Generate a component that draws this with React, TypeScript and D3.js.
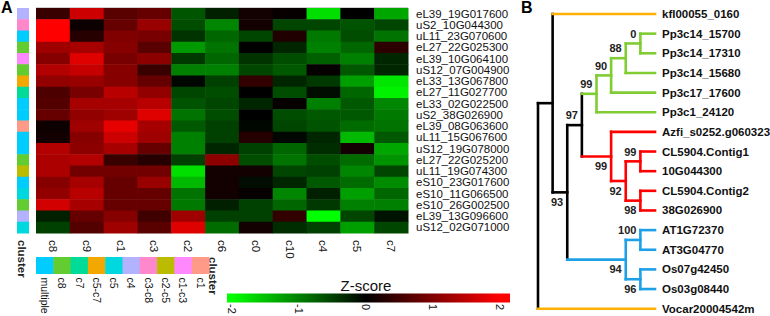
import React from 'react';
import * as d3 from 'd3';

const columns = ['c8', 'c9', 'c1', 'c3', 'c2', 'c6', 'c0', 'c10', 'c4', 'c5', 'c7'];

const genes = [
  'eL39_19G017600', 'uS2_10G044300', 'uL11_23G070600', 'eL27_22G025300', 'eL39_10G064100',
  'uS12_07G004900', 'eL33_13G067800', 'eL27_11G027700', 'eL33_02G022500', 'uS2_38G026900',
  'eL39_08G063600', 'uL11_15G067600', 'uS12_19G078000', 'eL27_22G025200', 'uL11_19G074300',
  'eS10_23G017600', 'eS10_11G066500', 'eS10_26G002500', 'eL39_13G096600', 'uS12_02G071000',
];

const geneCluster = [
  'c4', 'c3-c8', 'multiple', 'c8', 'c1-c3', 'c8', 'c5-c7', 'c7', 'multiple', 'multiple',
  'c1', 'multiple', 'multiple', 'c8', 'c2-c5', 'multiple', 'c5', 'c8', 'c4', 'c5',
];

// z-scores, one row per gene, columns in the order above
const zscores = [
  [0.45, 1.6, 0.7, 0.8, -0.67, -0.25, 0.15, 0.05, -1.75, 0, -1.3],
  [2.0, 0.1, 0.8, 1.2, -0.6, -1.05, 0.15, -0.55, -0.55, -0.65, -0.55],
  [2.0, 0.3, 1.0, 0.95, -0.4, -0.8, -0.55, 0.25, -0.95, -0.6, -0.9],
  [1.25, 1.3, 1.05, 0.7, -1.2, -0.9, 0, -0.3, -1.0, -0.8, 0.35],
  [1.05, 1.75, 0.95, 1.1, -0.45, -0.8, -0.4, -0.6, -0.75, -1.0, -0.3],
  [1.4, 1.55, 1.05, 0.45, -1.0, -1.0, -0.55, -0.7, 0.05, -0.7, -0.3],
  [1.15, 1.2, 1.05, 0.8, -0.05, -0.5, 0.4, -0.3, -0.45, -1.25, -1.8],
  [0.6, 0.95, 1.45, 1.15, -0.55, -0.6, 0, -0.6, -0.1, -0.8, -1.9],
  [0.65, 1.3, 1.3, 1.45, -0.65, -0.55, -0.3, 0.05, -1.0, -0.7, -1.05],
  [0.8, 1.15, 1.25, 1.75, -0.9, -0.6, 0, -0.6, -0.7, -0.7, -0.95],
  [0.1, 1.25, 1.8, 1.3, -0.7, -0.5, -0.05, -0.55, -0.65, -0.85, -0.9],
  [0.15, 1.05, 1.6, 1.25, -1.0, -0.5, 0.3, -0.05, -0.3, -1.45, -0.7],
  [1.4, 1.1, 1.3, 0.8, -1.0, -0.3, -0.5, -0.8, -0.35, 0.15, -1.3],
  [1.35, 1.4, 0.45, 0.3, -0.5, 1.1, -0.6, -0.9, -0.6, -0.85, -1.15],
  [1.35, 0.9, 0.9, 0.9, -1.75, 0.15, 0.15, -0.55, -0.5, -1.05, -0.55],
  [1.05, 1.3, 0.8, 1.2, -1.45, 0.15, -0.1, -0.3, -0.7, -0.85, -1.1],
  [1.15, 1.45, 0.8, 0.8, -0.9, 0.15, 0.05, -1.05, -0.25, -1.25, -0.8],
  [1.65, 1.3, 0.8, 0.8, -0.95, -0.25, -0.5, -0.8, -0.45, -1.0, -1.0],
  [-0.25, 0.8, 1.05, 0.5, 1.25, -0.5, -0.5, 0.4, -2.0, -0.55, -0.15],
  [-0.5, 0.65, 1.25, 0.7, 1.75, -0.85, 0.15, -0.35, -0.5, -1.25, -0.55],
];

const clusterLegend = ['multiple', 'c8', 'c7', 'c5-c7', 'c5', 'c4', 'c3-c8', 'c2-c5', 'c1-c3', 'c1'];
const clusterColors = ['#00ccff', '#62cc30', '#00dc98', '#f2a800', '#00d8e0', '#b2b2ff', '#ff88cc', '#bbbb00', '#ff88ff', '#ff9988'];

const zTicks = [-2, -1, 0, 1, 2];

// tree: internal nodes carry a cladogram level and bootstrap support
type TNode = { name?: string; level?: number; support?: string; pos?: 'above' | 'below'; clade: string; children?: TNode[] };

const tree: TNode = {
  level: 0, clade: 'base', children: [
    {
      level: 1, clade: 'base', children: [
        { name: 'kfl00055_0160', clade: 'out' },
        {
          level: 2, clade: 'base', support: '93', pos: 'below', children: [
            {
              level: 3, clade: 'base', support: '97', pos: 'above', children: [
                {
                  level: 4, clade: 'moss', support: '99', pos: 'above', children: [
                    {
                      level: 5, clade: 'moss', support: '90', pos: 'above', children: [
                        {
                          level: 6, clade: 'moss', support: '88', pos: 'above', children: [
                            {
                              level: 7, clade: 'moss', support: '0', pos: 'above', children: [
                                { name: 'Pp3c14_15700', clade: 'moss' },
                                { name: 'Pp3c14_17310', clade: 'moss' },
                              ],
                            },
                            { name: 'Pp3c14_15680', clade: 'moss' },
                          ],
                        },
                        { name: 'Pp3c17_17600', clade: 'moss' },
                      ],
                    },
                    { name: 'Pp3c1_24120', clade: 'moss' },
                  ],
                },
                {
                  level: 5, clade: 'fern', support: '99', pos: 'below', children: [
                    { name: 'Azfi_s0252.g060323', clade: 'fern' },
                    {
                      level: 6, clade: 'fern', support: '92', pos: 'below', children: [
                        {
                          level: 7, clade: 'fern', support: '99', pos: 'above', children: [
                            { name: 'CL5904.Contig1', clade: 'fern' },
                            { name: '10G044300', clade: 'fern' },
                          ],
                        },
                        {
                          level: 7, clade: 'fern', support: '98', pos: 'below', children: [
                            { name: 'CL5904.Contig2', clade: 'fern' },
                            { name: '38G026900', clade: 'fern' },
                          ],
                        },
                      ],
                    },
                  ],
                },
              ],
            },
            {
              level: 6, clade: 'seed', support: '94', pos: 'below', children: [
                {
                  level: 7, clade: 'seed', support: '100', pos: 'above', children: [
                    { name: 'AT1G72370', clade: 'seed' },
                    { name: 'AT3G04770', clade: 'seed' },
                  ],
                },
                {
                  level: 7, clade: 'seed', support: '96', pos: 'below', children: [
                    { name: 'Os07g42450', clade: 'seed' },
                    { name: 'Os03g08440', clade: 'seed' },
                  ],
                },
              ],
            },
          ],
        },
      ],
    },
    { name: 'Vocar20004542m', clade: 'out' },
  ],
};

const cladeColor: Record<string, string> = {
  base: '#000000',
  out: '#ffb000',
  moss: '#80cc33',
  fern: '#ff0000',
  seed: '#1ea0e6',
};

const FONT = 'Arial, "Liberation Sans", sans-serif';

export default function App() {
  const W = 770;
  const H = 316;

  // heatmap
  const hm = { left: 36, right: 408, top: 8, bottom: 233 };
  const x = d3.scaleBand<string>().domain(columns).range([hm.left, hm.right]);
  const y = d3.scaleBand<string>().domain(genes).range([hm.top, hm.bottom]);
  const color = d3.scaleLinear<string>().domain([-2, 0, 2]).range(['#00ff00', '#000000', '#ff0000']).clamp(true);
  const clusterColor = d3.scaleOrdinal<string, string>().domain(clusterLegend).range(clusterColors);
  const legendX = d3.scaleBand<string>().domain(clusterLegend).range([36, 209]);

  // color key
  const zx = d3.scaleLinear().domain([-2, 2]).range([232, 500]);
  const barL = 227;
  const barR = 510;
  const gradStops = [-2, 0, 2].map(v => ({ off: (zx(v) - barL) / (barR - barL), c: color(v) }));

  // tree
  const root = d3.hierarchy(tree);
  const leaves = root.leaves();
  const ly = d3.scaleLinear().domain([0, leaves.length - 1]).range([14, 308.7]);
  const lx = d3.scaleLinear().domain([0, 8]).range([538, 655]);
  const pos = new Map<any, { x: number; y: number }>();
  leaves.forEach((l, i) => pos.set(l, { x: lx(8), y: ly(i) }));
  root.eachAfter(n => {
    if (n.children) {
      const ys = n.children.map(c => pos.get(c)!.y);
      pos.set(n, { x: lx(n.data.level!), y: (ys[0] + ys[ys.length - 1]) / 2 });
    }
  });

  const treeLines: { x1: number; y1: number; x2: number; y2: number; c: string }[] = [];
  root.each(n => {
    if (!n.children) return;
    const p = pos.get(n)!;
    const ys = n.children.map(c => pos.get(c)!.y);
    treeLines.push({ x1: p.x, y1: ys[0], x2: p.x, y2: ys[ys.length - 1], c: cladeColor[n.data.clade] });
    n.children.forEach(c => {
      const cp = pos.get(c)!;
      treeLines.push({ x1: p.x, y1: cp.y, x2: cp.x, y2: cp.y, c: cladeColor[c.data.clade] });
    });
  });

  return (
    <svg width={W} height={H} style={{ position: 'absolute', left: 0, top: 0, background: '#fff' }} fontFamily={FONT}>
      <defs>
        <linearGradient id="zgrad" x1="0" x2="1" y1="0" y2="0">
          {gradStops.map((s, i) => (
            <stop key={i} offset={s.off} stopColor={s.c} />
          ))}
        </linearGradient>
      </defs>

      {/* panel letters */}
      <text x={1} y={13} fontSize={16} fontWeight="bold">A</text>
      <text x={521} y={13} fontSize={16} fontWeight="bold">B</text>

      {/* heatmap */}
      <line x1={hm.left} x2={hm.right} y1={hm.top - 0.5} y2={hm.top - 0.5} stroke="#d0d0d0" />
      {zscores.map((row, i) =>
        row.map((v, j) => (
          <rect
            key={`${i}-${j}`}
            x={x(columns[j])}
            y={y(genes[i])}
            width={x.bandwidth() + 0.5}
            height={y.bandwidth() + 0.5}
            fill={color(v)}
          />
        ))
      )}

      {/* cluster side bar */}
      {genes.map((g, i) => (
        <rect key={g} x={17} y={y(g)} width={12} height={y.bandwidth() + 0.5} fill={clusterColor(geneCluster[i])} />
      ))}

      {/* gene labels */}
      {genes.map(g => (
        <text key={g} x={416} y={y(g)! + y.bandwidth() / 2} dy="0.35em" fontSize={11.5} fill="#111">
          {g}
        </text>
      ))}

      {/* column labels */}
      {columns.map(c => (
        <text
          key={c}
          transform={`translate(${x(c)! + x.bandwidth() / 2},240) rotate(90)`}
          dy="0.35em"
          fontSize={11.5}
          fill="#111"
        >
          {c}
        </text>
      ))}

      <text transform="translate(22,240) rotate(90)" dy="0.35em" fontSize={11.5} fontWeight="bold" fill="#222">cluster</text>
      <text transform="translate(213,257) rotate(90)" dy="0.35em" fontSize={11.5} fontWeight="bold" fill="#222">cluster</text>

      {/* cluster legend */}
      {clusterLegend.map(c => (
        <g key={c}>
          <rect x={legendX(c)} y={257} width={legendX.bandwidth() + 0.5} height={17} fill={clusterColor(c)} />
          <text
            transform={`translate(${legendX(c)! + legendX.bandwidth() / 2},277.5) rotate(90)`}
            dy="0.35em"
            fontSize={10.5}
            fill="#111"
          >
            {c}
          </text>
        </g>
      ))}

      {/* z-score color key */}
      <text x={366} y={290.5} textAnchor="middle" fontSize={15} fill="#111">Z-score</text>
      <rect x={barL} y={293.5} width={barR - barL} height={9} fill="url(#zgrad)" />
      {zTicks.map(t => (
        <text key={t} transform={`translate(${zx(t)},304) rotate(90)`} dy="0.35em" fontSize={11} fill="#111">
          {t}
        </text>
      ))}

      {/* tree */}
      {treeLines.map((l, i) => (
        <line key={i} x1={l.x1} y1={l.y1} x2={l.x2} y2={l.y2} stroke={l.c} strokeWidth={2.6} strokeLinecap="square" />
      ))}
      {leaves.map(l => {
        const p = pos.get(l)!;
        return (
          <text key={l.data.name} x={p.x + 7} y={p.y} dy="0.35em" fontSize={11.5} fontWeight="bold" fill="#111">
            {l.data.name}
          </text>
        );
      })}
      {root.descendants().filter(n => n.data.support).map((n, i) => {
        const p = pos.get(n)!;
        return (
          <text
            key={i}
            x={p.x - 4}
            y={p.y + (n.data.pos === 'above' ? -9.7 : 9.7)}
            dy="0.35em"
            textAnchor="end"
            fontSize={11}
            fontWeight="bold"
            fill="#222"
          >
            {n.data.support}
          </text>
        );
      })}
    </svg>
  );
}
